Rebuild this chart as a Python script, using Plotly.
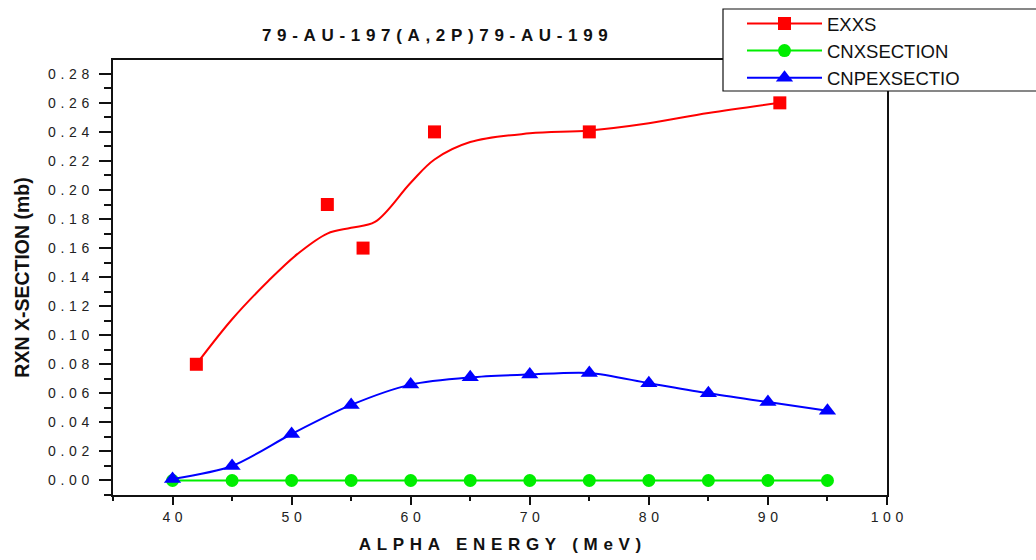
import plotly.graph_objects as go

# ---------------- data ----------------
exxs_x = [42, 53, 56, 62, 75, 91]
exxs_y = [0.080, 0.190, 0.160, 0.240, 0.240, 0.260]

# smooth fitted curve through the EXXS data
fit_x = [42, 45, 48, 50.5, 53, 55, 57, 60, 62, 65, 70, 75, 80, 85, 91]
fit_y = [0.080, 0.111, 0.137, 0.156, 0.170, 0.174, 0.178, 0.205, 0.221, 0.233, 0.239, 0.241, 0.246, 0.253, 0.260]

energy = [40, 45, 50, 55, 60, 65, 70, 75, 80, 85, 90, 95]
cnx = [0, 0, 0, 0, 0, 0, 0, 0, 0, 0, 0, 0]
cnpex = [0.001, 0.010, 0.032, 0.052, 0.066, 0.071, 0.073, 0.074, 0.067, 0.060, 0.054, 0.048]

x_ticks = [40, 50, 60, 70, 80, 90, 100]
x_minor = [35, 45, 55, 65, 75, 85, 95]
y_ticks = [0.00, 0.02, 0.04, 0.06, 0.08, 0.10, 0.12, 0.14, 0.16, 0.18, 0.20, 0.22, 0.24, 0.26, 0.28]

title_text = "79-AU-197(A,2P)79-AU-199"
x_title = "ALPHA ENERGY (MeV)"
y_title = "RXN X-SECTION (mb)"


def spaced(s, sp="\u2004"):
    return sp.join(list(s))


FONT = "Arial, Liberation Sans, sans-serif"
INK = "#111111"

fig = go.Figure()

# fitted curve (no legend entry of its own)
fig.add_trace(go.Scatter(
    x=fit_x, y=fit_y, mode="lines",
    line=dict(color="#ff0000", width=2, shape="spline", smoothing=1.0),
    showlegend=False, hoverinfo="skip", legendgroup="exxs"))
# measured points
fig.add_trace(go.Scatter(
    x=exxs_x, y=exxs_y, mode="markers", name="EXXS", showlegend=False, legendgroup="exxs",
    marker=dict(symbol="square", size=13, color="#ff0000")))
# legend-only entry showing line + square
fig.add_trace(go.Scatter(
    x=[None], y=[None], mode="lines+markers", name="EXXS", legendgroup="exxs",
    line=dict(color="#ff0000", width=2),
    marker=dict(symbol="square", size=13, color="#ff0000")))
fig.add_trace(go.Scatter(
    x=energy, y=cnx, mode="lines+markers", name="CNXSECTION",
    line=dict(color="#00ee00", width=2),
    marker=dict(symbol="circle", size=13, color="#00ee00")))
fig.add_trace(go.Scatter(
    x=energy, y=cnpex, mode="lines+markers", name="CNPEXSECTIO",
    line=dict(color="#0000ff", width=2, shape="spline", smoothing=0.8),
    marker=dict(symbol="triangle-up", size=15, color="#0000ff")))

L, R, T, B = 113, 149, 60, 65
PW, PH = 1036 - L - R, 560 - T - B


def px_x(p):
    return (p - L) / PW


def px_y(p):
    return (560 - B - p) / PH


fig.update_layout(
    width=1036, height=560,
    margin=dict(l=L, r=R, t=T, b=B, autoexpand=False),
    paper_bgcolor="white", plot_bgcolor="white",
    font=dict(family=FONT, color="#222222", size=14),
    showlegend=True,
    legend=dict(
        x=px_x(742), y=px_y(5), xanchor="left", yanchor="top",
        borderwidth=0, bgcolor="rgba(0,0,0,0)",
        font=dict(size=18.5, family=FONT, color=INK),
        itemwidth=75, tracegroupgap=0,
    ),
    xaxis=dict(
        range=[35, 100], tickvals=x_ticks, ticktext=[spaced(str(v)) for v in x_ticks],
        ticks="outside", ticklen=8, tickwidth=1.5, tickcolor=INK,
        showline=True, linecolor=INK, linewidth=2, mirror=True,
        showgrid=False, zeroline=False,
        tickfont=dict(size=14, color="#222222"),
        minor=dict(tickvals=x_minor, ticks="outside", ticklen=4,
                   tickwidth=1.5, tickcolor=INK, showgrid=False),
        title=dict(text=spaced(x_title, "\u2004"), font=dict(size=17, weight="bold", color=INK),
                   standoff=14),
    ),
    yaxis=dict(
        range=[-0.0100, 0.2895], tickvals=y_ticks, ticktext=[spaced(f"{v:.2f}") for v in y_ticks],
        ticks="outside", ticklen=12, tickwidth=1.5, tickcolor=INK,
        ticklabelstandoff=7,
        showline=True, linecolor=INK, linewidth=2, mirror=True,
        showgrid=False, zeroline=False,
        tickfont=dict(size=14, color="#222222"),
        minor=dict(dtick=0.01, tick0=0, ticks="outside", ticklen=7,
                   tickwidth=1.5, tickcolor=INK, showgrid=False),
        title=dict(text=y_title, font=dict(size=19.5, weight="bold", color=INK), standoff=13),
    ),
    shapes=[dict(
        type="rect", xref="paper", yref="paper",
        x0=px_x(723), x1=px_x(1045), y0=px_y(91), y1=px_y(9),
        line=dict(color=INK, width=1.2), fillcolor="white", layer="above")],
    annotations=[dict(
        text=spaced(title_text, "\u2004"), xref="paper", yref="paper",
        x=px_x(435), y=px_y(36), xanchor="center", yanchor="middle",
        showarrow=False, font=dict(size=17, weight="bold", color=INK, family=FONT))],
)

fig.write_html("out.html")
